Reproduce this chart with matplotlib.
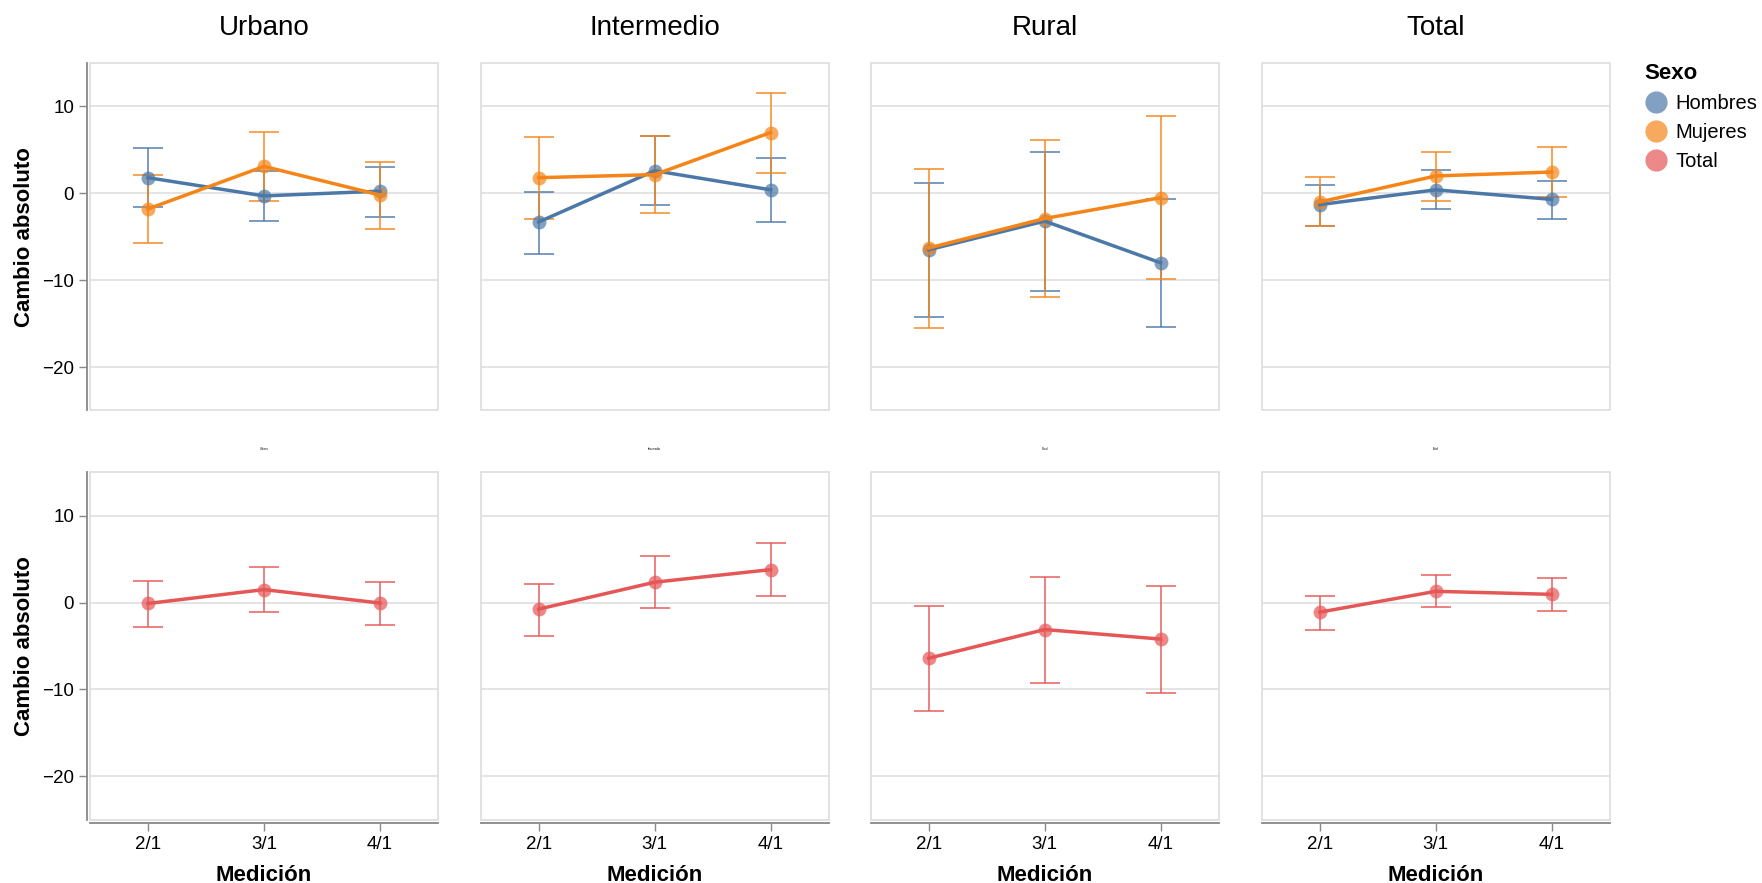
import numpy as np
import matplotlib
matplotlib.use("Agg")
import matplotlib.pyplot as plt
from matplotlib.lines import Line2D
from matplotlib.patches import Rectangle

plt.rcParams['font.family'] = ['Liberation Sans', 'DejaVu Sans']

zonas = ["Urbano", "Intermedio", "Rural", "Total"]
mediciones = ["2/1", "3/1", "4/1"]

# one row per zona, one value per medicion
hombres_media = [[1.8, -0.3, 0.25], [-3.3, 2.6, 0.4], [-6.5, -3.2, -8.0], [-1.3, 0.4, -0.7]]
hombres_lo = [[-1.6, -3.2, -2.7], [-7.0, -1.4, -3.3], [-14.25, -11.25, -15.4], [-3.8, -1.8, -3.0]]
hombres_hi = [[5.2, 2.6, 3.0], [0.2, 6.6, 4.1], [1.15, 4.7, -0.6], [1.0, 2.7, 1.45]]

mujeres_media = [[-1.8, 3.1, -0.2], [1.8, 2.15, 7.0], [-6.3, -2.9, -0.5], [-1.0, 2.0, 2.45]]
mujeres_lo = [[-5.7, -0.9, -4.1], [-2.9, -2.3, 2.3], [-15.5, -11.9, -9.9], [-3.8, -0.85, -0.4]]
mujeres_hi = [[2.1, 7.1, 3.6], [6.5, 6.6, 11.6], [2.8, 6.1, 8.9], [1.9, 4.8, 5.3]]

total_media = [[-0.1, 1.5, -0.05], [-0.75, 2.35, 3.8], [-6.4, -3.1, -4.2], [-1.1, 1.3, 0.95]]
total_lo = [[-2.85, -1.1, -2.6], [-3.8, -0.65, 0.8], [-12.5, -9.2, -10.35], [-3.1, -0.5, -1.0]]
total_hi = [[2.5, 4.1, 2.35], [2.2, 5.4, 6.9], [-0.4, 3.0, 1.9], [0.8, 3.2, 2.8]]

colores = {"Hombres": "#4c78a8", "Mujeres": "#f58518", "Total": "#e45756"}

W, H = 1762, 883
fig = plt.figure(figsize=(W / 100, H / 100), dpi=100)

lefts = [90, 480.7, 870.7, 1261.7]
pw = 348
row_top = [63, 472.3]
ph = 347.5


def draw_serie(ax, media, lo, hi, color):
    x = np.arange(len(mediciones))
    media = np.array(media)
    yerr = np.vstack([media - np.array(lo), np.array(hi) - media])
    ax.errorbar(x, media, yerr=yerr, fmt='none', ecolor=color, elinewidth=1.3,
                capsize=10.5, capthick=1.3, alpha=0.8, zorder=3)
    ax.plot(x, media, 'o', color=color, markersize=10, alpha=0.7, markeredgewidth=0, zorder=4)
    ax.plot(x, media, '-', color=color, lw=2.5, zorder=5)


for r in range(2):
    for c, zona in enumerate(zonas):
        ax = fig.add_axes([lefts[c] / W, 1 - (row_top[r] + ph) / H, pw / W, ph / H])
        ax.set_xlim(-0.5, 2.5)
        ax.set_ylim(-25, 15)
        for s in ax.spines.values():
            s.set_visible(False)
        ax.add_patch(Rectangle((0, 0), 1, 1, transform=ax.transAxes, fill=False,
                               edgecolor='#dddddd', lw=1.2, zorder=1, clip_on=False))
        ax.set_yticks([-20, -10, 0, 10])
        ax.set_xticks(range(len(mediciones)))
        ax.yaxis.grid(True, color='#dddddd', lw=1.1)
        ax.set_axisbelow(True)
        ax.tick_params(axis='both', colors='#888888', labelcolor='black', labelsize=13.5,
                       length=6, width=1)

        if c == 0:
            ax.spines['left'].set_visible(True)
            ax.spines['left'].set_position(('outward', 2))
            ax.spines['left'].set_color('#888888')
            ax.spines['left'].set_linewidth(1.3)
            ax.set_yticklabels(["\u221220", "\u221210", "0", "10"])
            ax.set_ylabel("Cambio absoluto", fontsize=16, fontweight='bold', labelpad=5)
        else:
            ax.tick_params(axis='y', left=False, labelleft=False)

        if r == 1:
            ax.spines['bottom'].set_visible(True)
            ax.spines['bottom'].set_position(('outward', 2))
            ax.spines['bottom'].set_color('#888888')
            ax.spines['bottom'].set_linewidth(1.3)
            ax.set_xticklabels(mediciones)
            ax.set_xlabel("Medición", fontsize=16, fontweight='bold', labelpad=9)
            ax.set_title(zona, fontsize=2, pad=16)
            draw_serie(ax, total_media[c], total_lo[c], total_hi[c], colores["Total"])
        else:
            ax.tick_params(axis='x', bottom=False, labelbottom=False)
            ax.set_title(zona, fontsize=20, pad=20)
            draw_serie(ax, hombres_media[c], hombres_lo[c], hombres_hi[c], colores["Hombres"])
            draw_serie(ax, mujeres_media[c], mujeres_lo[c], mujeres_hi[c], colores["Mujeres"])

handles = [Line2D([], [], marker='o', linestyle='none', markersize=16, alpha=0.7,
                  markeredgewidth=0, color=colores[k]) for k in colores]
leg = fig.legend(handles, list(colores.keys()), title="Sexo", loc='upper left',
                 bbox_to_anchor=(1636 / W, 1 - 55 / H), frameon=False, fontsize=14.5,
                 title_fontsize=16, alignment='left', labelspacing=0.5,
                 handletextpad=0.35, handlelength=1.2, borderaxespad=0)
leg.get_title().set_fontweight('bold')

fig.savefig("out.png", dpi=100)
